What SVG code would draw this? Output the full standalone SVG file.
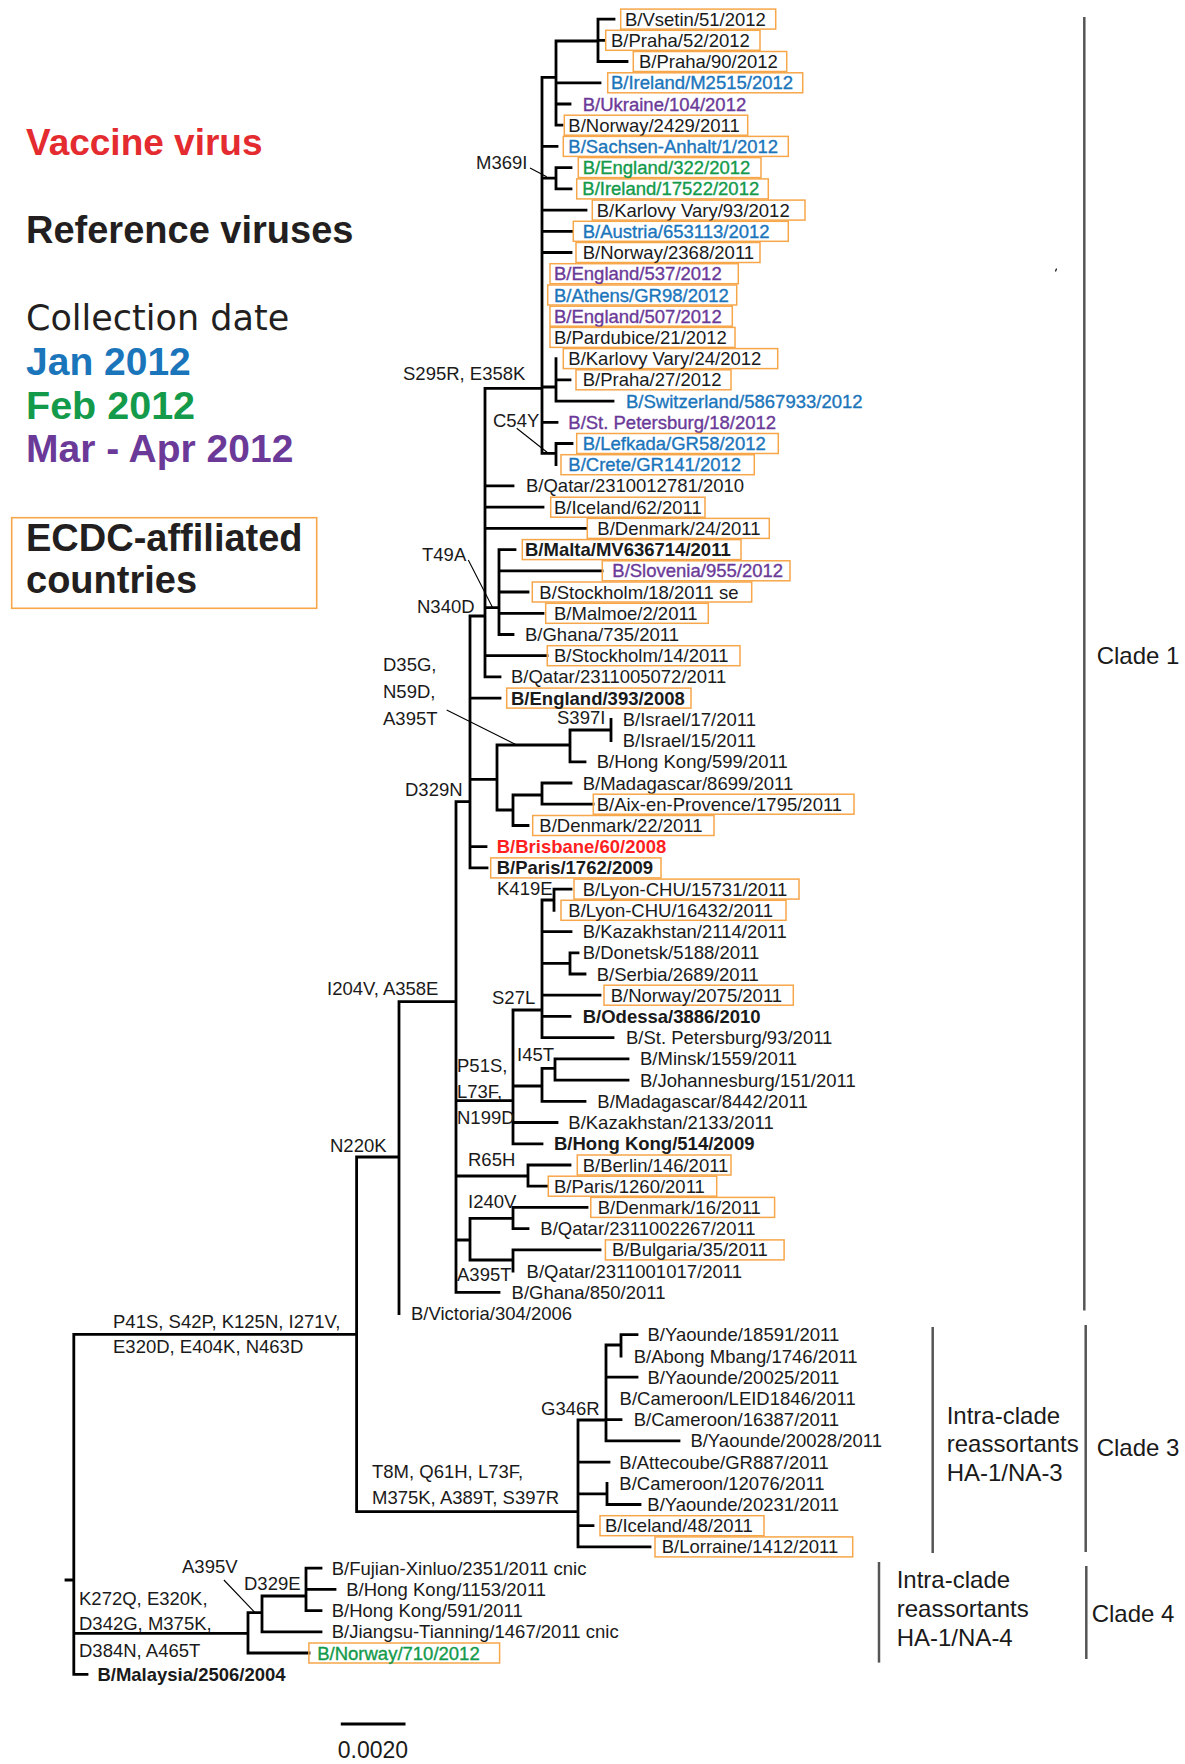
<svg xmlns="http://www.w3.org/2000/svg" width="1185" height="1764" viewBox="0 0 1185 1764">
<style>
.t{font-family:"Liberation Sans",Arial,sans-serif;font-size:18.5px;fill:#1a1a1a}
.b{font-weight:bold}
.blue{fill:#1b75bb;stroke:#1b75bb;stroke-width:0.35}.green{fill:#139a4a;stroke:#139a4a;stroke-width:0.35}.purple{fill:#6b3a98;stroke:#6b3a98;stroke-width:0.35}.red{fill:#ff1f1f}
.box{fill:none;stroke:#f7a649;stroke-width:1.5}
.tree{fill:none;stroke:#000;stroke-width:2.8;stroke-linecap:square}
.ptr{stroke:#000;stroke-width:1.1;fill:none}
.bar{stroke:#555;stroke-width:2.5}
.cl{font-family:"Liberation Sans",Arial,sans-serif;font-size:24px;fill:#1a1a1a}
.lg{font-family:"Liberation Sans",Arial,sans-serif;font-weight:bold;font-size:38px;fill:#231f20}
</style>
<rect width="1185" height="1764" fill="#fff"/>

<g id="legend">
<text class="lg" x="26" y="155" style="fill:#e42b2f;font-size:37px">Vaccine virus</text>
<text class="lg" x="26" y="243" style="font-size:38px">Reference viruses</text>
<text x="26" y="330" style="font-family:'DejaVu Sans',sans-serif;font-size:35px;fill:#231f20">Collection date</text>
<text class="lg" x="26" y="375" style="fill:#1b75bb;font-size:39px">Jan 2012</text>
<text class="lg" x="26" y="419" style="fill:#139a4a;font-size:39.5px">Feb 2012</text>
<text class="lg" x="26" y="462" style="fill:#6b3a98;font-size:39px">Mar - Apr 2012</text>
<rect x="11.7" y="517.7" width="305" height="90.6" fill="none" stroke="#f7a649" stroke-width="1.6"/>
<text class="lg" x="26" y="551">ECDC-affiliated</text>
<text class="lg" x="26" y="593">countries</text>
</g>

<g id="connectors">
<path class="tree" d="M598 19.1V61.5M598 19.1H614M598 40.3H604M598 61.5H627
M556 41V125.2M556 41H598M556 82.8H600M556 104H570M556 125.2H562
M542 77.3V453.3M542 77.3H556M542 146.4H557M542 178.2H556M556 167.6V188.9M556 167.6H571M556 188.9H571
M542 210.1H586M542 231.3H572M542 252.5H571
M542 387H556M556 358.6V401.1M556 379.8H570M556 401.1H613
M542 422.3H557
M542 453.3H556M556 443.5V464.7M556 443.5H572
M485 388.3H542M485 388.3V676.9
M485 485.9H513M485 507.2H543M485 528.4H586
M485 607.7H499M499 549.6V634.5M499 549.6H515M499 570.8H602M499 592H528M499 613.3H543M499 634.5H513
M485 655.7H547M485 676.9H500
M470 616H485M470 616V867.9
M470 698.1H500M470 779.3H497M497 745V810M497 745H570M570 730V761.8M570 730H611M611 719.4V740.6M570 761.8H585
M497 810H513M513 795V825.5M513 795H542M542 783V804.2M542 783H571M542 804.2H593M513 825.5H528
M470 846.7H486M470 867.9H487
M456 801.7H470M456 801.7V1292.3
M456 1100.7H513M513 1010V1143.8M513 1010H542M542 900V1037.7M542 900H554M554 889.1V910.3M554 889.1H571
M542 931.6H571M542 963.4H570M570 952.8V974M570 952.8H578M570 974H585
M542 995.2H600M542 1016.4H570M542 1037.7H613
M513 1086H542M542 1068.3V1101.3M542 1068.3H555M555 1058.9V1080.1M555 1058.9H628M555 1080.1H628M542 1101.3H585
M513 1122.5H557M513 1143.8H542
M456 1176H528M528 1165V1186.2M528 1165H570M528 1186.2H547
M456 1240H470M470 1218.3V1260M470 1218.3H513M513 1207.4V1228.6M513 1207.4H587M513 1228.6H528M470 1260H513M513 1249.9V1271.1M513 1249.9H600
M456 1292.3H499
M399 1001.7H456M399 1001.7V1313.5
M356.6 1157H399M356.6 1157V1511.7M356.6 1511.7H578
M578 1420V1546.9M578 1420H606M606 1345V1440.8M606 1345H621M621 1334.7V1356M621 1334.7H637M606 1377.2H637M606 1419.6H621M606 1440.8H679
M578 1462.1H609M578 1493.9H607M607 1483.3V1504.5M607 1504.5H640M578 1525.7H593M578 1546.9H650
M73.8 1334.3H356.6M73.8 1334.3V1674.3M66 1580H73.8M73.8 1674.3H87
M73.8 1633.3H248M248 1612.7V1653M248 1612.7H262M248 1653H309M262 1596V1631.8M262 1596H306M262 1631.8H321M306 1568.2V1610.6M306 1568.2H321M306 1589.4H335M306 1610.6H321"/>
<path class="ptr" d="M530 168L546.7 176.7M516.7 428.3L548.3 453.3M468.3 560L492.7 607.7M446.7 710L516.7 745M223.9 1580L255 1612.7"/>
<path class="ptr" d="M1056.5 268.5L1055.5 271.5"/>
<g id="mutations" class="t">
<text x="476" y="169">M369I</text>
<text x="403" y="380">S295R, E358K</text>
<text x="493" y="427">C54Y</text>
<text x="422" y="561">T49A</text>
<text x="417" y="613">N340D</text>
<text x="383" y="671">D35G,</text>
<text x="383" y="698">N59D,</text>
<text x="383" y="725">A395T</text>
<text x="557" y="724">S397I</text>
<text x="405" y="796">D329N</text>
<text x="497" y="895">K419E</text>
<text x="327" y="995">I204V, A358E</text>
<text x="492" y="1004">S27L</text>
<text x="457" y="1072">P51S,</text>
<text x="457" y="1098">L73F,</text>
<text x="457" y="1124">N199D</text>
<text x="517" y="1061">I45T</text>
<text x="468" y="1166">R65H</text>
<text x="468" y="1208">I240V</text>
<text x="457" y="1281">A395T</text>
<text x="330" y="1152">N220K</text>
<text x="113" y="1328">P41S, S42P, K125N, I271V,</text>
<text x="113" y="1353">E320D, E404K, N463D</text>
<text x="541" y="1415">G346R</text>
<text x="372" y="1478">T8M, Q61H, L73F,</text>
<text x="372" y="1504">M375K, A389T, S397R</text>
<text x="182" y="1573">A395V</text>
<text x="244" y="1590">D329E</text>
<text x="79" y="1605">K272Q, E320K,</text>
<text x="79" y="1630">D342G, M375K,</text>
<text x="79" y="1657">D384N, A465T</text>
</g>
</g>

<g id="leaves" class="t">
<g id="n0"><rect class="box" x="620.7" y="9.1" width="155" height="20"/><text x="625" y="25.6">B/Vsetin/51/2012</text></g>
<g id="n1"><rect class="box" x="605.7" y="30.3" width="154.3" height="20"/><text x="611" y="46.8">B/Praha/52/2012</text></g>
<g id="n2"><rect class="box" x="633.3" y="51.5" width="153.4" height="20"/><text x="639" y="68">B/Praha/90/2012</text></g>
<g id="n3"><rect class="box" x="607.7" y="72.8" width="195" height="20"/><text class="blue" x="611" y="89.3">B/Ireland/M2515/2012</text></g>
<g id="n4"><text class="purple" x="582.7" y="110.5">B/Ukraine/104/2012</text></g>
<g id="n5"><rect class="box" x="564.3" y="115.2" width="183.4" height="20"/><text x="568.3" y="131.7">B/Norway/2429/2011</text></g>
<g id="n6"><rect class="box" x="563.3" y="136.4" width="225" height="20"/><text class="blue" x="568.3" y="152.9">B/Sachsen-Anhalt/1/2012</text></g>
<g id="n7"><rect class="box" x="578.3" y="157.6" width="182.7" height="20"/><text class="green" x="582.7" y="174.1">B/England/322/2012</text></g>
<g id="n8"><rect class="box" x="576.7" y="178.9" width="191.6" height="20"/><text class="green" x="582.3" y="195.4">B/Ireland/17522/2012</text></g>
<g id="n9"><rect class="box" x="592.3" y="200.1" width="212.7" height="20"/><text x="596.7" y="216.6">B/Karlovy Vary/93/2012</text></g>
<g id="n10"><rect class="box" x="573.3" y="221.3" width="215" height="20"/><text class="blue" x="582.7" y="237.8">B/Austria/653113/2012</text></g>
<g id="n11"><rect class="box" x="576" y="242.5" width="184" height="20"/><text x="582.7" y="259">B/Norway/2368/2011</text></g>
<g id="n12"><rect class="box" x="550" y="263.7" width="188.3" height="20"/><text class="purple" x="554" y="280.2">B/England/537/2012</text></g>
<g id="n13"><rect class="box" x="547.7" y="285" width="189" height="20"/><text class="blue" x="554" y="301.5">B/Athens/GR98/2012</text></g>
<g id="n14"><rect class="box" x="550" y="306.2" width="182.3" height="20"/><text class="purple" x="554" y="322.7">B/England/507/2012</text></g>
<g id="n15"><rect class="box" x="550" y="327.4" width="185" height="20"/><text x="554" y="343.9">B/Pardubice/21/2012</text></g>
<g id="n16"><rect class="box" x="563.3" y="348.6" width="214.4" height="20"/><text x="568.3" y="365.1">B/Karlovy Vary/24/2012</text></g>
<g id="n17"><rect class="box" x="576" y="369.8" width="155" height="20"/><text x="582.7" y="386.3">B/Praha/27/2012</text></g>
<g id="n18"><text class="blue" x="626" y="407.6">B/Switzerland/5867933/2012</text></g>
<g id="n19"><text class="purple" x="568.3" y="428.8">B/St. Petersburg/18/2012</text></g>
<g id="n20"><rect class="box" x="576.7" y="433.5" width="201.6" height="20"/><text class="blue" x="582.7" y="450">B/Lefkada/GR58/2012</text></g>
<g id="n21"><rect class="box" x="561" y="454.7" width="193.3" height="20"/><text class="blue" x="568.3" y="471.2">B/Crete/GR141/2012</text></g>
<g id="n22"><text x="526" y="492.4">B/Qatar/2310012781/2010</text></g>
<g id="n23"><rect class="box" x="550.7" y="497.2" width="154.3" height="20"/><text x="554" y="513.7">B/Iceland/62/2011</text></g>
<g id="n24"><rect class="box" x="587.3" y="518.4" width="182" height="20"/><text x="597.3" y="534.9">B/Denmark/24/2011</text></g>
<g id="n25"><rect class="box" x="522.3" y="539.6" width="218.7" height="20"/><text class="b" x="525" y="556.1">B/Malta/MV636714/2011</text></g>
<g id="n26"><rect class="box" x="602.3" y="560.8" width="187.7" height="20"/><text class="purple" x="612.3" y="577.3">B/Slovenia/955/2012</text></g>
<g id="n27"><rect class="box" x="532.3" y="582" width="219.4" height="20"/><text x="539.3" y="598.5">B/Stockholm/18/2011 se</text></g>
<g id="n28"><rect class="box" x="545.7" y="603.3" width="162.6" height="20"/><text x="554" y="619.8">B/Malmoe/2/2011</text></g>
<g id="n29"><text x="525" y="641">B/Ghana/735/2011</text></g>
<g id="n30"><rect class="box" x="547.3" y="645.7" width="192.7" height="20"/><text x="554" y="662.2">B/Stockholm/14/2011</text></g>
<g id="n31"><text x="511" y="683.4">B/Qatar/2311005072/2011</text></g>
<g id="n32"><rect class="box" x="506.7" y="688.1" width="184.3" height="20"/><text class="b" x="511" y="704.6">B/England/393/2008</text></g>
<g id="n33"><text x="622.7" y="725.9">B/Israel/17/2011</text></g>
<g id="n34"><text x="622.7" y="747.1">B/Israel/15/2011</text></g>
<g id="n35"><text x="596.7" y="768.3">B/Hong Kong/599/2011</text></g>
<g id="n36"><text x="582.7" y="789.5">B/Madagascar/8699/2011</text></g>
<g id="n37"><rect class="box" x="593.3" y="794.2" width="260.7" height="20"/><text x="596.7" y="810.7">B/Aix-en-Provence/1795/2011</text></g>
<g id="n38"><rect class="box" x="532.7" y="815.5" width="181.3" height="20"/><text x="539.3" y="832">B/Denmark/22/2011</text></g>
<g id="n39"><text class="b red" x="496.7" y="853.2">B/Brisbane/60/2008</text></g>
<g id="n40"><rect class="box" x="490.7" y="857.9" width="170.3" height="20"/><text class="b" x="496.7" y="874.4">B/Paris/1762/2009</text></g>
<g id="n41"><rect class="box" x="574" y="879.1" width="225" height="20"/><text x="582.7" y="895.6">B/Lyon-CHU/15731/2011</text></g>
<g id="n42"><rect class="box" x="561" y="900.3" width="225" height="20"/><text x="568.3" y="916.8">B/Lyon-CHU/16432/2011</text></g>
<g id="n43"><text x="582.7" y="938.1">B/Kazakhstan/2114/2011</text></g>
<g id="n44"><text x="582.7" y="959.3">B/Donetsk/5188/2011</text></g>
<g id="n45"><text x="596.7" y="980.5">B/Serbia/2689/2011</text></g>
<g id="n46"><rect class="box" x="604" y="985.2" width="189.3" height="20"/><text x="610.7" y="1001.7">B/Norway/2075/2011</text></g>
<g id="n47"><text class="b" x="582.7" y="1022.9">B/Odessa/3886/2010</text></g>
<g id="n48"><text x="626" y="1044.2">B/St. Petersburg/93/2011</text></g>
<g id="n49"><text x="640" y="1065.4">B/Minsk/1559/2011</text></g>
<g id="n50"><text x="640" y="1086.6">B/Johannesburg/151/2011</text></g>
<g id="n51"><text x="597.3" y="1107.8">B/Madagascar/8442/2011</text></g>
<g id="n52"><text x="568.3" y="1129">B/Kazakhstan/2133/2011</text></g>
<g id="n53"><text class="b" x="554" y="1150.3">B/Hong Kong/514/2009</text></g>
<g id="n54"><rect class="box" x="577.3" y="1155" width="153.7" height="20"/><text x="582.7" y="1171.5">B/Berlin/146/2011</text></g>
<g id="n55"><rect class="box" x="548.3" y="1176.2" width="168.4" height="20"/><text x="554" y="1192.7">B/Paris/1260/2011</text></g>
<g id="n56"><rect class="box" x="590.8" y="1197.4" width="183.8" height="20"/><text x="597.7" y="1213.9">B/Denmark/16/2011</text></g>
<g id="n57"><text x="540.3" y="1235.1">B/Qatar/2311002267/2011</text></g>
<g id="n58"><rect class="box" x="605.4" y="1239.9" width="178.7" height="20"/><text x="611.9" y="1256.4">B/Bulgaria/35/2011</text></g>
<g id="n59"><text x="526.6" y="1277.6">B/Qatar/2311001017/2011</text></g>
<g id="n60"><text x="511.6" y="1298.8">B/Ghana/850/2011</text></g>
<g id="n61"><text x="411" y="1320">B/Victoria/304/2006</text></g>
<g id="n62"><text x="647.5" y="1341.2">B/Yaounde/18591/2011</text></g>
<g id="n63"><text x="633.7" y="1362.5">B/Abong Mbang/1746/2011</text></g>
<g id="n64"><text x="647.5" y="1383.7">B/Yaounde/20025/2011</text></g>
<g id="n65"><text x="619.6" y="1404.9">B/Cameroon/LEID1846/2011</text></g>
<g id="n66"><text x="633.7" y="1426.1">B/Cameroon/16387/2011</text></g>
<g id="n67"><text x="690.4" y="1447.3">B/Yaounde/20028/2011</text></g>
<g id="n68"><text x="619.3" y="1468.6">B/Attecoube/GR887/2011</text></g>
<g id="n69"><text x="619.3" y="1489.8">B/Cameroon/12076/2011</text></g>
<g id="n70"><text x="647.3" y="1511">B/Yaounde/20231/2011</text></g>
<g id="n71"><rect class="box" x="600" y="1515.7" width="164" height="20"/><text x="605" y="1532.2">B/Iceland/48/2011</text></g>
<g id="n72"><rect class="box" x="655" y="1536.9" width="197.7" height="20"/><text x="661.7" y="1553.4">B/Lorraine/1412/2011</text></g>
<g id="n73"><text x="331.7" y="1574.7">B/Fujian-Xinluo/2351/2011 cnic</text></g>
<g id="n74"><text x="346.2" y="1595.9">B/Hong Kong/1153/2011</text></g>
<g id="n75"><text x="331.7" y="1617.1">B/Hong Kong/591/2011</text></g>
<g id="n76"><text x="331.7" y="1638.3">B/Jiangsu-Tianning/1467/2011 cnic</text></g>
<g id="n77"><rect class="box" x="308.9" y="1643" width="190.7" height="20"/><text class="green" x="317.2" y="1659.5">B/Norway/710/2012</text></g>
<g id="n78"><text class="b" x="97.4" y="1680.8">B/Malaysia/2506/2004</text></g>
</g>

<g id="clades">
<line class="bar" x1="1084.3" y1="17" x2="1084.3" y2="1310.5"/>
<line class="bar" x1="1085.7" y1="1325" x2="1085.7" y2="1552"/>
<line class="bar" x1="1086.3" y1="1566" x2="1086.3" y2="1659"/>
<line class="bar" x1="932.7" y1="1327" x2="932.7" y2="1553"/>
<line class="bar" x1="879" y1="1562" x2="879" y2="1662.6"/>
<text class="cl" x="1096.7" y="664">Clade 1</text>
<text class="cl" x="1096.7" y="1456">Clade 3</text>
<text class="cl" x="1091.7" y="1622">Clade 4</text>
<text class="cl" x="946.7" y="1424">Intra-clade</text>
<text class="cl" x="946.7" y="1452">reassortants</text>
<text class="cl" x="946.7" y="1481">HA-1/NA-3</text>
<text class="cl" x="896.7" y="1588">Intra-clade</text>
<text class="cl" x="896.7" y="1617">reassortants</text>
<text class="cl" x="896.7" y="1646">HA-1/NA-4</text>
</g>

<g id="scale">
<line x1="340.8" y1="1724" x2="405.5" y2="1724" stroke="#000" stroke-width="2.8"/>
<text x="373" y="1758" text-anchor="middle" style="font-family:'Liberation Sans',Arial,sans-serif;font-size:23px;fill:#1a1a1a">0.0020</text>
</g>
</svg>
